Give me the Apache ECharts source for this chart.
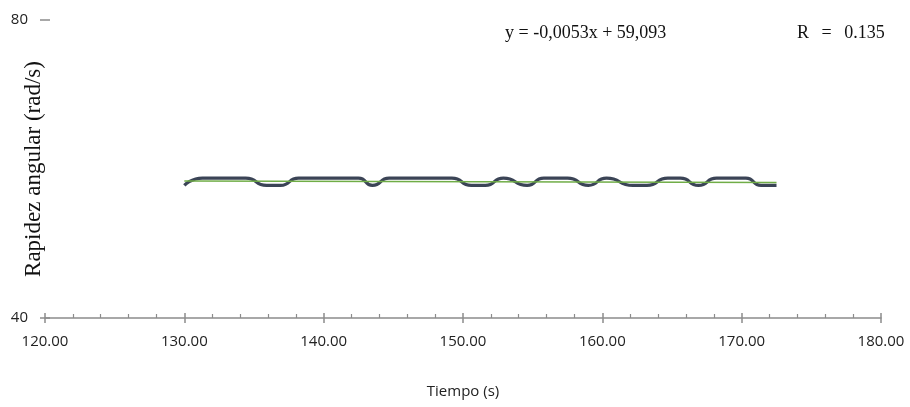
<!DOCTYPE html>
<html>
<head>
<meta charset="utf-8">
<script src="https://cdn.jsdelivr.net/npm/echarts@6/dist/echarts.min.js"></script>
<style>html,body{margin:0;padding:0;background:#fff;}#c{width:910px;height:407px;}</style>
</head>
<body>
<div id="c"></div>
<script>
var times = [130.0,131.3,132.8,134.4,135.9,136.9,138.2,139.8,141.3,142.5,143.5,144.7,146.2,147.8,149.2,150.6,151.6,152.9,154.6,155.8,157.5,159.0,160.3,162.2,163.2,164.7,165.6,166.9,168.2,169.5,170.3,171.4,172.5];
var speeds = [57.8,58.78,58.78,58.78,57.8,57.8,58.78,58.78,58.78,58.78,57.8,58.78,58.78,58.78,58.78,57.8,57.8,58.78,57.8,58.78,58.78,57.8,58.78,57.8,57.8,58.78,58.78,57.8,58.78,58.78,58.78,57.8,57.8];
var trendTimes = [130.0, 172.5];
var trendValues = [58.40, 58.18];
var equationText = 'y = -0,0053x + 59,093';
var rText = 'R\u2002\u2009=\u2002\u20090.135';
var xTitle = 'Tiempo (s)';
var yTitle = 'Rapidez angular (rad/s)';

var mainData = times.map(function(t,i){return [t, speeds[i]];});
var trendData = trendTimes.map(function(t,i){return [t, trendValues[i]];});

var chart = echarts.init(document.getElementById('c'));
var axisGray = '#8c8c8c';
chart.setOption({
  animation:false,
  backgroundColor:'#ffffff',
  grid:{left:45,right:29,top:20,bottom:89,containLabel:false,outerBoundsMode:'none'},
  xAxis:[{
    type:'value',min:120,max:180,interval:10,
    axisLine:{show:true,lineStyle:{color:axisGray,width:1.5}},
    axisTick:{show:true,length:5,lineStyle:{color:axisGray,width:1.5}},
    axisLabel:{formatter:function(v){return v.toFixed(2);},color:'#222',fontFamily:'Open Sans',fontSize:15,margin:16},
    splitLine:{show:false},
    name:xTitle,nameLocation:'middle',nameGap:66,
    nameTextStyle:{color:'#222',fontFamily:'Open Sans',fontSize:15}
  },{
    type:'value',min:120,max:180,interval:10,position:'bottom',
    axisLine:{show:false},
    axisTick:{show:true,inside:true,length:5,lineStyle:{color:axisGray,width:1.5}},
    minorTick:{show:true,splitNumber:5,length:4,lineStyle:{color:axisGray,width:1.2}},
    axisLabel:{show:false},splitLine:{show:false}
  }],
  yAxis:[{
    type:'value',min:40,max:80,interval:40,
    axisLine:{show:false},
    axisTick:{show:true,length:5,lineStyle:{color:axisGray,width:1.5}},
    axisLabel:{color:'#222',fontFamily:'Open Sans',fontSize:15,margin:17},
    splitLine:{show:false}
  },{
    type:'value',min:40,max:80,interval:40,position:'left',
    axisLine:{show:false},
    axisTick:{show:true,inside:true,length:5,lineStyle:{color:axisGray,width:1.5}},
    axisLabel:{show:false},splitLine:{show:false}
  }],
  series:[{
    type:'line',data:mainData,smooth:0.6,showSymbol:false,
    lineStyle:{color:'#3b4456',width:3.2},z:2
  },{
    type:'line',data:trendData,showSymbol:false,
    lineStyle:{color:'#70ad47',width:1.5},z:3
  }],
  graphic:[{
    type:'text',left:505,top:24,
    style:{text:equationText,fontFamily:'Liberation Serif',fontSize:18,fill:'#111'}
  },{
    type:'text',left:797,top:24,
    style:{text:rText,fontFamily:'Liberation Serif',fontSize:18,fill:'#111'}
  },{
    type:'text',x:34,y:169,rotation:Math.PI/2,
    style:{text:yTitle,fontFamily:'Liberation Serif',fontSize:23,fill:'#111',align:'center',verticalAlign:'middle'}
  }]
});
</script>
</body>
</html>
